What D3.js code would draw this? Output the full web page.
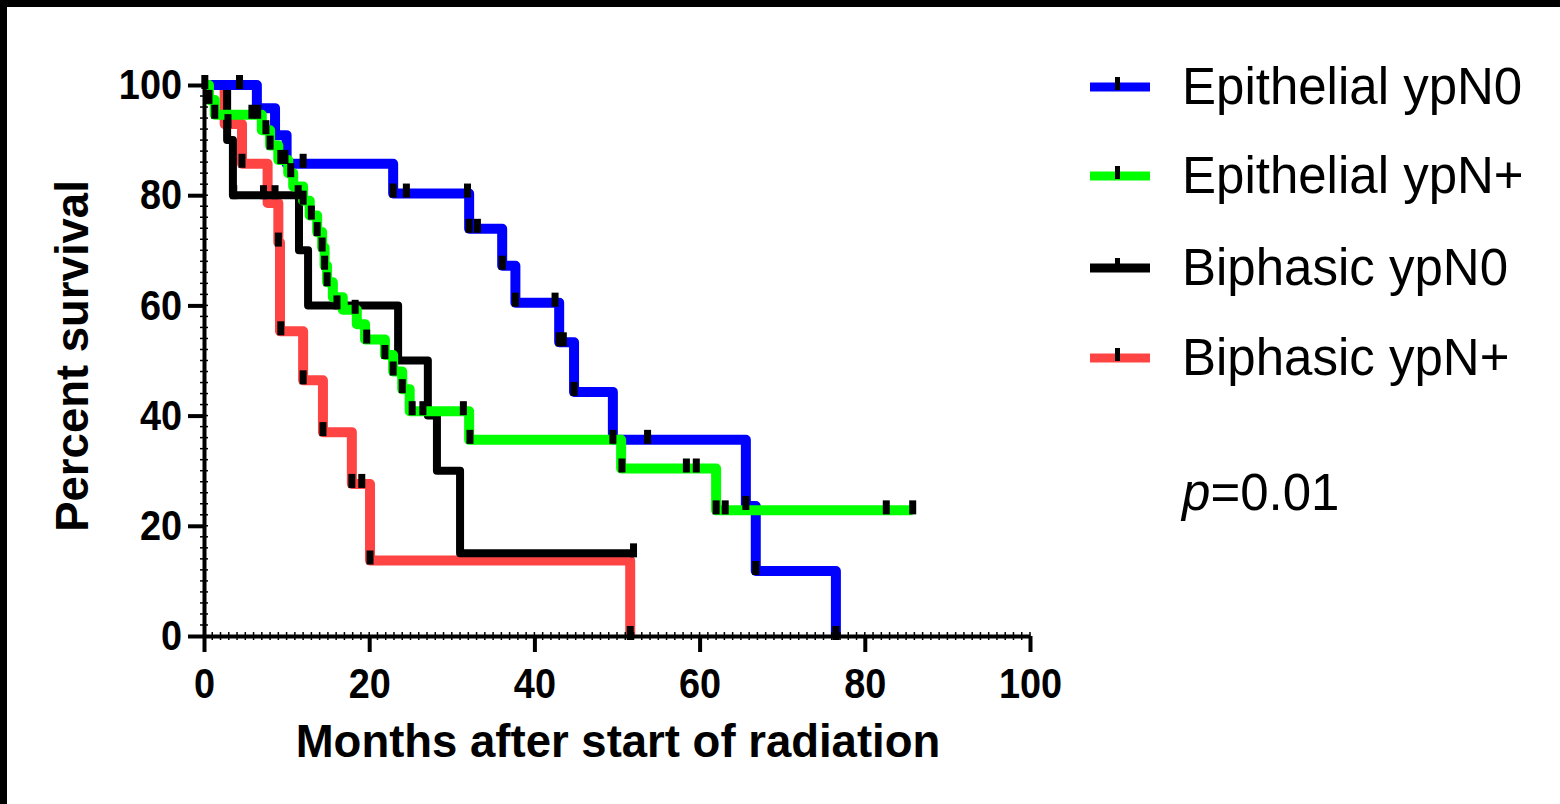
<!DOCTYPE html>
<html>
<head>
<meta charset="utf-8">
<script src="https://cdn.jsdelivr.net/npm/d3@7"></script>
<style>
  body { margin: 0; background: #fff; }
  svg { display: block; font-family: "Liberation Sans", Arial, sans-serif; }
</style>
</head>
<body>
<div id="chart"></div>
<script>
// Chart size
const width = 1560;
const height = 804;

// Series names and colours
const seriesNames = ["Epithelial ypN0", "Epithelial ypN+", "Biphasic ypN0", "Biphasic ypN+"];
const seriesColors = ["#0000ff", "#00ff00", "#000000", "#ff4444"];

// Step times (months) and percent survival after each step
const blueTimes = [0, 6.4, 8.6, 10.0, 22.9, 32.1, 36.1, 37.7, 43.0, 44.8, 49.5, 65.6, 66.8, 76.5];
const blueSurv  = [100, 95.8, 90.9, 85.7, 80.3, 73.9, 67.2, 60.5, 53.3, 44.3, 35.6, 23.6, 11.8, 0];
const blueEnd = 76.5;
const blueTicks = [0.1, 4.3, 12.0, 22.9, 24.5, 31.9, 32.1, 33.1, 36.1, 37.7, 42.5, 43.0, 43.5, 44.8, 49.5, 53.7, 65.6, 66.8, 76.5];

const greenTimes = [0, 0.6, 1.3, 7.0, 8.0, 9.0, 10.2, 10.8, 12.0, 12.8, 13.7, 14.3, 14.6, 14.9, 15.6, 16.8, 18.5, 19.5, 21.9, 22.9, 24.0, 24.9, 32.1, 50.5, 62.0];
const greenSurv  = [100, 97.3, 94.6, 91.8, 89.0, 86.4, 84.0, 81.6, 79.0, 76.3, 73.3, 70.5, 67.2, 64.2, 61.5, 59.2, 56.6, 53.8, 51.0, 48.0, 44.8, 40.8, 35.6, 30.4, 22.8];
const greenEnd = 85.8;
const greenTicks = [0.6, 1.3, 5.8, 6.5, 7.5, 8.0, 9.3, 9.8, 10.5, 12.0, 13.0, 13.7, 14.3, 14.6, 14.9, 18.3, 19.7, 21.9, 22.9, 24.0, 25.2, 26.5, 31.4, 32.2, 50.6, 58.4, 59.6, 62.0, 63.1, 82.6, 85.8];

const blackTimes = [0, 2.8, 3.5, 11.5, 12.6, 23.5, 27.1, 28.2, 31.0];
const blackSurv  = [100, 90, 80, 70, 60, 50, 40, 30, 15];
const blackEnd = 52.0;
const blackTicks = [3.6, 7.2, 8.6, 11.4, 16.1, 52.0];

const redTimes = [0, 2.5, 4.6, 7.7, 9.0, 9.2, 12.0, 14.4, 17.9, 20.1, 51.6];
const redSurv  = [100, 92.9, 85.7, 78.6, 71.4, 55.3, 46.4, 37.0, 27.6, 13.7, 0];
const redEnd = 51.6;
const redTicks = [2.9, 4.6, 9.0, 9.3, 12.0, 14.4, 17.9, 19.1, 20.1, 51.6];

// Axis ticks
const xTickValues = [0, 20, 40, 60, 80, 100];
const yTickValues = [0, 20, 40, 60, 80, 100];

const series = [
  {times: blueTimes, surv: blueSurv, end: blueEnd, ticks: blueTicks, color: seriesColors[0], w: 10},
  {times: greenTimes, surv: greenSurv, end: greenEnd, ticks: greenTicks, color: seriesColors[1], w: 10},
  {times: blackTimes, surv: blackSurv, end: blackEnd, ticks: blackTicks, color: seriesColors[2], w: 8},
  {times: redTimes, surv: redSurv, end: redEnd, ticks: redTicks, color: seriesColors[3], w: 10}
];
// red and black sit underneath the epithelial curves
const drawOrder = [3, 2, 0, 1];

const svg = d3.select("#chart").append("svg")
    .attr("width", width)
    .attr("height", height);

svg.append("rect").attr("width", width).attr("height", height).attr("fill", "#fff");
// black frame on top and left
svg.append("rect").attr("x", 0).attr("y", 0).attr("width", width).attr("height", 7).attr("fill", "#000");
svg.append("rect").attr("x", 0).attr("y", 0).attr("width", 7).attr("height", height).attr("fill", "#000");

const x = d3.scaleLinear().domain([0, 100]).range([204, 1030]);
const y = d3.scaleLinear().domain([0, 100]).range([636, 85]);

// survival value at time t (step after)
function survAt(s, t) {
  let v = s.surv[0];
  s.times.forEach((tt, i) => { if (tt <= t + 1e-9) v = s.surv[i]; });
  return v;
}

const line = d3.line()
    .x(d => x(d[0]))
    .y(d => y(d[1]))
    .curve(d3.curveStepAfter);

// Draw the curves
drawOrder.forEach(i => {
  const s = series[i];
  const pts = s.times.map((t, j) => [t, s.surv[j]]);
  pts.push([s.end, s.surv[s.surv.length - 1]]);
  svg.append("path")
      .datum(pts)
      .attr("fill", "none")
      .attr("stroke", s.color)
      .attr("stroke-width", s.w)
      .attr("stroke-linejoin", "round")
      .attr("d", line);
});

// Tick marks on the curves
series.forEach(s => {
  svg.selectAll(null)
      .data(s.ticks)
      .enter().append("rect")
      .attr("x", d => x(d) - 3.5)
      .attr("y", d => y(survAt(s, d)) - 10)
      .attr("width", 7)
      .attr("height", 14)
      .attr("fill", "#000");
});

// Minor ticks
svg.selectAll(".xminor")
    .data(d3.range(0, 101, 1))
    .enter().append("line")
    .attr("x1", d => x(d)).attr("x2", d => x(d))
    .attr("y1", 632).attr("y2", 640)
    .attr("stroke", "#000").attr("stroke-width", 1.5);
svg.selectAll(".yminor")
    .data(d3.range(0, 101, 2))
    .enter().append("line")
    .attr("y1", d => y(d)).attr("y2", d => y(d))
    .attr("x1", 200).attr("x2", 208)
    .attr("stroke", "#000").attr("stroke-width", 1.5);

// Axes
const xAxis = svg.append("g")
    .attr("transform", "translate(0,636)")
    .call(d3.axisBottom(x).tickValues(xTickValues).tickSize(16).tickSizeOuter(0).tickPadding(15));
const yAxis = svg.append("g")
    .attr("transform", "translate(204,0)")
    .call(d3.axisLeft(y).tickValues(yTickValues).tickSize(16).tickSizeOuter(0).tickPadding(9));

[xAxis, yAxis].forEach(a => {
  a.select(".domain").attr("stroke-width", 4);
  a.selectAll(".tick line").attr("stroke-width", 4);
  a.selectAll(".tick text")
      .attr("font-family", "Liberation Sans, Arial, sans-serif")
      .attr("font-size", 43)
      .attr("font-weight", "bold")
      .attr("fill", "#000")
      .attr("transform", "scale(0.88,1)");
});

// Axis titles
svg.append("text")
    .attr("x", 618).attr("y", 757)
    .attr("text-anchor", "middle")
    .attr("font-size", 45.5).attr("font-weight", "bold")
    .text("Months after start of radiation");
svg.append("text")
    .attr("transform", "translate(88,356) rotate(-90)")
    .attr("text-anchor", "middle")
    .attr("font-size", 45.5).attr("font-weight", "bold")
    .text("Percent survival");

// Legend
const legendY = [87, 176, 268, 358];
const legend = svg.selectAll(".legend")
    .data(seriesNames)
    .enter().append("g")
    .attr("transform", (d, i) => `translate(0,${legendY[i]})`);
legend.append("line")
    .attr("x1", 1090).attr("x2", 1150)
    .attr("stroke", (d, i) => seriesColors[i])
    .attr("stroke-width", 9);
legend.append("rect")
    .attr("x", 1115).attr("y", -10).attr("width", 5).attr("height", 13)
    .attr("fill", "#000");
legend.append("text")
    .attr("x", 1182).attr("y", 17)
    .attr("font-size", 51)
    .text(d => d);

const pText = svg.append("text").attr("x", 1182).attr("y", 510).attr("font-size", 51);
pText.append("tspan").attr("font-style", "italic").text("p");
pText.append("tspan").text("=0.01");
</script>
</body>
</html>
